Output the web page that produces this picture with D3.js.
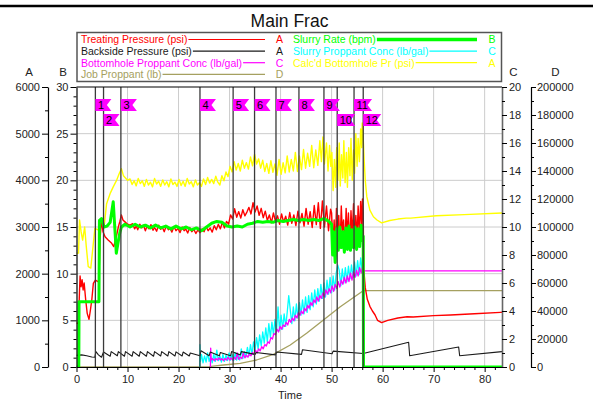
<!DOCTYPE html>
<html><head><meta charset="utf-8">
<script src="https://cdn.jsdelivr.net/npm/d3@7"></script>
<style>body{margin:0;background:#fff}svg{display:block;font-family:"Liberation Sans",Arial,sans-serif}</style>
</head><body><svg id="c" width="595" height="403"></svg>
<script>
const chartTitle = "Main Frac";
const xLabel = "Time";
const xTicks = [0,10,20,30,40,50,60,70,80];
const ticksA = [0,1000,2000,3000,4000,5000,6000];
const ticksB = [0,5,10,15,20,25,30];
const ticksC = [0,2,4,6,8,10,12,14,16,18,20];
const ticksD = [0,20000,40000,60000,80000,100000,120000,140000,160000,180000,200000];
const axisNames = ["A","B","C","D"];
const flagLabels = ["1","2","3","4","5","6","7","8","9","10","11","12"];
const flagTimes = [3.7,5.3,8.7,24.2,30.7,34.9,39.1,43.6,48.5,51.1,54.4,56.2];

const legendLeft = [
  {name:"Treating Pressure (psi)", axis:"A", key:"red"},
  {name:"Backside Pressure (psi)", axis:"A", key:"black"},
  {name:"Bottomhole Proppant Conc (lb/gal)", axis:"C", key:"magenta"},
  {name:"Job Proppant (lb)", axis:"D", key:"olive"}
];
const legendRight = [
  {name:"Slurry Rate (bpm)", axis:"B", key:"green"},
  {name:"Slurry Proppant Conc (lb/gal)", axis:"C", key:"cyan"},
  {name:"Calc'd Bottomhole Pr (psi)", axis:"A", key:"yellow"}
];

// Treating Pressure (psi) - axis A
const treatingPressure = [[0,936],[0.4,936],[0.55,1500],[0.7,1950],[0.9,1720],[1.1,1870],[1.3,1650],[1.5,1800],[1.8,1440],[2.1,1150],[2.45,1020],[2.7,1200],[3.0,1440],[3.3,1790],[3.7,1860],[4.2,1830],[4.4,1850],[4.6,2720],[4.9,3150],[5.2,2900],[5.6,2790],[6.2,2720],[6.9,2650],[7.3,2580],[7.8,2790],[8.2,3000],[8.5,3120],[8.8,3260],[9.1,3150],[9.5,3110],[10.0,3060],[10.5,3040],
[11.0,3070],[11.4,2960],[11.7,3020],[12.0,2940],[12.4,3060],[12.8,2980],[13.1,3040],[13.5,2920],[13.8,3010],[14.2,2960],[14.6,3050],[15.0,2930],[15.3,2990],[15.7,2910],[16.1,3040],[16.5,2950],[16.8,3000],[17.2,2900],[17.6,3030],[18.0,2940],[18.3,2980],[18.7,2890],[19.1,3010],[19.5,2920],[19.9,2970],[20.3,2880],[20.7,3000],[21.1,2920],[21.4,2960],[21.8,2870],[22.2,2990],[22.6,2900],[23.0,2950],[23.4,2860],[23.8,2940],[24.2,2880],[24.6,2960],[25.0,2900],[25.4,3010],[25.8,2920],[26.2,2980],[26.6,2890],[27.0,3030],[27.4,2940],[27.8,3060],[28.2,2960],[28.6,3100],[29.0,2980],[29.4,3120],[29.8,3060],
[30.2,3260],[30.6,3170],[31.0,3390],[31.4,3210],[31.8,3330],[32.2,3190],[32.6,3370],[33.0,3240],[33.4,3320],[33.8,3420],[34.2,3280],[34.6,3520],[35.0,3320],[35.4,3450],[35.8,3250],[36.2,3400],[36.6,3200],[37.0,3340],[37.4,3140],[37.8,3260],[38.2,3090],[38.6,3300],[39.0,3120],[39.4,3240],[39.8,3060],[40.2,3280],[40.6,3100],[41.0,3230],[41.4,3040],[41.8,3310],[42.2,3080],[42.6,3260],[43.0,3030],[43.4,3340],[43.8,3090],[44.2,3290],[44.6,3020],[45.0,3400],[45.4,3060],[45.8,3330],[46.2,2990],[46.6,3460],[47.0,3050],[47.4,3520],[47.8,2970],[48.2,3560],[48.6,3000],[49.0,3450],[49.4,2920],[49.8,3380],
[50.0,3300],[50.25,2600],[50.5,3150],[50.7,2450],[50.95,3400],[51.2,2800],[51.4,3250],[51.65,2550],[51.9,3450],[52.1,2900],[52.35,3150],[52.6,2500],[52.85,3400],[53.1,2750],[53.3,3300],[53.55,2550],[53.8,3350],[54.05,2800],[54.3,3500],[54.5,2650],[54.75,3250],[55.0,2750],[55.2,3450],[55.45,2850],[55.7,3550],[55.9,3000],[56.05,3600],[56.2,3300],
[56.3,2100],[56.6,1700],[57.0,1450],[57.5,1300],[58.0,1200],[58.5,1120],[59.0,1000],[59.8,950],[61.0,1000],[63.0,1050],[64.8,1078],[66.0,1070],[70.0,1100],[73.3,1114],[78.0,1140],[83.1,1171],[83.4,1172]];

// Backside Pressure (psi) - axis A
const backsidePressure = [[0,250],[1,260],[2,240],[3,215],[3.6,210],[3.8,330],[4.3,260],[4.9,210],[5.3,320],[5.6,300],[6.6,230],[6.8,330],[8.0,240],[8.2,330],[9.4,230],[9.6,330],[10.9,230],[11.1,330],[12.3,230],[12.5,330],[13.7,230],[13.9,330],[15.1,230],[15.3,330],[16.5,235],[16.7,330],[17.9,235],[18.1,330],[19.3,235],[19.5,325],[20.7,235],[20.9,320],[22.1,235],[22.3,300],[24.2,240],[24.4,350],[26.0,240],[26.2,320],[28.0,240],[28.2,310],[30.2,240],[30.4,330],[32.1,260],[32.3,330],[35.0,270],[35.2,310],[39.0,260],[39.2,320],[44.1,270],[44.3,370],[50.1,285],[50.3,340],[56.2,290],[65.1,530],[65.3,240],[74.9,430],[75.1,240],[83.4,330]];

// Slurry Rate (bpm) - axis B
const slurryRate = [[0,0],[0.45,0],[0.5,7.0],[1,7.0],[4.4,7.0],[4.5,15.7],[4.9,15.9],[5.4,15.0],[6.0,15.1],[6.6,15.5],[7.2,17.7],[7.5,15.0],[7.8,12.2],[8.2,13.5],[8.5,14.4],[8.8,15.0],[9.5,15.3],
[10.5,15.0],[11.5,15.3],[12.5,15.0],[13.5,15.2],[14.5,14.9],[15.5,15.2],[16.5,14.9],[17.5,15.1],[18.5,14.8],[19.5,15.1],[20.5,14.8],[21.5,15.0],[22.5,14.7],[23.5,14.9],[24.5,14.6],[25.5,15.0],[26.5,15.4],[27.5,15.6],[28.5,15.5],[29.5,15.1],[30.5,15.0],[31.5,15.1],[32.5,15.0],[33.5,15.3],[34.5,15.4],[35.5,15.6],[36.5,15.5],[37.5,15.6],[38.5,15.5],[39.5,15.7],[40.5,15.6],[41.5,15.7],[42.5,15.8],[43.5,15.7],[44.5,15.8],[45.5,15.7],[46.5,15.8],[47.5,15.7],[48.5,15.9],[49.5,15.6],[50.0,15.3],
[50.2,12.0],[50.4,14.5],[50.7,11.2],[51.0,14.8],[51.3,12.5],[51.6,15.0],[51.9,12.8],[52.2,14.5],[52.5,12.3],[52.8,14.9],[53.1,12.6],[53.4,15.1],[53.7,12.5],[54.0,14.7],[54.3,12.8],[54.6,15.0],[54.9,12.6],[55.2,14.8],[55.5,12.9],[55.8,15.2],[56.1,13.5],[56.2,14.0],[56.25,0],[83.4,0]];

// Slurry Proppant Conc (lb/gal) - axis C
const slurryConc = [[24.15,0],[24.2,1.6],[24.3,0.4],[24.5,0.9],[24.8,0.3],[25.1,0.8],[25.4,0.35],[25.7,1.0],[26.0,0.4],[26.3,0.8],[26.6,0.3],[26.9,0.9],[27.2,0.4],[27.5,1.2],[27.8,0.45],[28.1,0.8],[28.4,0.35],[28.7,0.9],[29.0,0.4],[29.3,0.85],[29.6,0.45],[29.9,1.0],[30.2,0.5],[30.5,0.9],[30.8,0.45],[31.1,1.0],[31.4,0.5],[31.7,0.9],[32.0,0.5],[32.3,1.3],[32.6,0.6],[32.9,1.1],[33.2,0.7],[33.5,1.4],[33.8,0.8],[34.1,1.6],[34.4,0.9],[34.7,1.8],[35.0,1.2],[35.3,2.1],[35.6,1.3],[35.9,2.3],[36.2,1.5],[36.5,2.5],[36.8,1.7],[37.1,2.8],[37.4,1.8],[37.7,3.1],[38.0,2.1],[38.3,3.2],[38.6,2.3],[38.9,3.4],[39.2,2.5],[39.5,4.3],[39.8,2.6],[40.1,3.7],[40.4,2.7],[40.7,3.8],[41.0,2.9],[41.3,3.9],[41.6,5.1],[41.9,4.1],[42.2,3.1],[42.5,4.3],[42.8,3.3],[43.1,4.5],[43.4,3.5],[43.7,4.6],[44.0,3.7],[44.3,4.8],[44.6,3.8],[44.9,5.0],[45.2,3.9],[45.5,5.1],[45.8,4.1],[46.1,5.3],[46.4,4.3],[46.7,5.5],[47.0,4.5],[47.3,5.6],[47.6,4.7],[47.9,5.9],[48.2,4.9],[48.5,6.0],[48.8,5.0],[49.1,6.2],[49.4,5.2],[49.7,6.4],[50.0,5.3],[50.3,6.5],[50.6,5.5],[50.9,6.7],[51.2,7.3],[51.5,6.9],[51.8,5.8],[52.1,7.0],[52.4,6.0],[52.7,7.1],[53.0,6.1],[53.3,7.2],[53.6,6.3],[53.9,7.3],[54.2,6.4],[54.5,7.5],[54.8,6.5],[55.1,7.6],[55.4,6.6],[55.7,7.8],[56.0,6.9],[56.2,7.0]];

// Bottomhole Proppant Conc (lb/gal) - axis C
const bottomholeConc = [[26.25,0],[26.3,1.35],[26.4,0.5],[26.7,0.6],[27.0,0.45],[27.3,0.6],[27.6,0.5],[27.9,0.65],[28.2,0.5],[28.5,0.6],[28.8,0.45],[29.1,0.6],[29.4,0.5],[29.7,0.7],[30.0,0.5],[30.3,0.65],[30.6,0.5],[30.9,0.7],[31.2,0.55],[31.5,1.0],[31.8,0.55],[32.1,0.7],[32.4,0.6],[32.7,1.0],[33.0,0.65],[33.3,0.85],[33.6,0.7],[33.9,0.95],[34.2,0.8],[34.5,1.05],[34.8,0.9],[35.1,1.2],[35.4,1.0],[35.7,1.3],[36.0,1.15],[36.3,1.45],[36.6,1.3],[36.9,1.6],[37.2,1.5],[37.5,1.8],[37.8,1.7],[38.1,2.1],[38.4,2.0],[38.7,2.4],[39.0,2.3],[39.3,2.7],[39.6,2.5],[39.9,2.9],[40.2,2.7],[40.5,3.0],[40.8,2.9],[41.1,3.2],[41.4,3.0],[41.7,3.4],[42.0,3.2],[42.3,3.5],[42.6,3.3],[42.9,3.7],[43.2,3.5],[43.5,3.9],[43.8,3.7],[44.1,4.0],[44.4,3.8],[44.7,4.2],[45.0,4.0],[45.3,4.4],[45.6,4.2],[45.9,4.6],[46.2,4.4],[46.5,4.8],[46.8,4.6],[47.1,5.0],[47.4,4.7],[47.7,5.1],[48.0,4.9],[48.3,5.3],[48.6,5.0],[48.9,5.5],[49.2,5.2],[49.5,5.6],[49.8,5.3],[50.1,5.8],[50.4,5.4],[50.7,5.9],[51.0,5.6],[51.3,6.1],[51.6,5.7],[51.9,6.2],[52.2,5.9],[52.5,6.4],[52.8,6.0],[53.1,6.5],[53.4,6.1],[53.7,6.7],[54.0,6.2],[54.3,6.8],[54.6,6.4],[54.9,6.9],[55.2,6.5],[55.5,7.1],[55.8,6.7],[56.1,7.2],[56.3,6.86],[83.4,6.86]];

// Job Proppant (lb) - axis D
const jobProppant = [[0,0],[24.2,0],[26.0,300],[28.8,1430],[32.1,2640],[35.3,5000],[38.6,9000],[41.9,15700],[45.1,24070],[48.4,33570],[51.7,43070],[55.0,51430],[56.2,54500],[83.4,54500]];

// Calc'd Bottomhole Pr (psi) - axis A
const bottomholePr = [[0,2440],[0.4,2440],[0.6,3150],[0.9,2900],[1.2,2720],[1.6,3000],[1.9,2600],[2.3,2150],[2.8,2120],[3.3,2650],[3.6,2970],[4.2,2940],[4.9,3080],[5.4,2990],[5.9,3500],[6.6,3720],[7.2,3860],[7.9,4010],[8.4,4150],[8.8,4250],[9.2,4100],[9.6,4050],[10.0,4000],
[10.5,4030],[10.9,3910],[11.3,3990],[11.7,3880],[12.1,4040],[12.5,3930],[12.9,3990],[13.3,3870],[13.7,4020],[14.1,3900],[14.5,3960],[14.9,3860],[15.3,4040],[15.7,3920],[16.1,3980],[16.5,3870],[16.9,4010],[17.3,3900],[17.7,3970],[18.1,3860],[18.5,4030],[18.9,3910],[19.3,3960],[19.7,3870],[20.1,4020],[20.5,3890],[20.9,3980],[21.3,3870],[21.7,4040],[22.1,3920],[22.5,3970],[22.9,3860],[23.3,4010],[23.7,3900],[24.1,3950],[24.5,3870],[24.9,4030],[25.3,3910],[25.7,4060],[26.1,3940],[26.5,4020],[26.9,3930],[27.3,4090],[27.7,3960],[28.1,3900],[28.5,4100],[28.9,3990],[29.3,4180],[29.7,4080],
[30.1,4300],[30.5,4180],[30.9,4400],[31.3,4220],[31.7,4360],[32.1,4200],[32.5,4430],[32.9,4260],[33.3,4380],[33.7,4240],[34.1,4500],[34.5,4310],[34.9,4560],[35.3,4350],[35.7,4460],[36.1,4260],[36.5,4430],[36.9,4190],[37.3,4360],[37.7,4150],[38.1,4420],[38.5,4170],[38.9,4350],[39.3,4110],[39.7,4450],[40.1,4130],[40.5,4380],[40.9,4160],[41.3,4520],[41.7,4180],[42.1,4450],[42.5,4200],[42.9,4600],[43.3,4190],[43.7,4520],[44.1,4230],[44.5,4660],[44.9,4260],[45.3,4580],[45.7,4300],[46.1,4750],[46.5,4270],[46.9,4650],[47.3,4320],[47.7,4850],[48.0,4400],[48.3,4930],[48.6,4350],[49.0,4800],[49.3,4200],
[49.6,4750],[49.85,4300],[50.05,4600],[50.3,3780],[50.55,4450],[50.8,3850],[51.0,4700],[51.25,4000],[51.5,4800],[51.7,3880],[51.95,4550],[52.2,4050],[52.4,4850],[52.65,3950],[52.9,4600],[53.1,3850],[53.35,4700],[53.6,4100],[53.8,4900],[54.05,4000],[54.3,4650],[54.5,4150],[54.75,5000],[55.0,4300],[55.2,4900],[55.45,4400],[55.7,5100],[55.9,4700],[56.0,5230],[56.2,4900],
[56.4,4400],[56.6,4000],[56.9,3650],[57.5,3360],[58.2,3220],[58.9,3150],[59.8,3090],[61.4,3140],[63.0,3170],[64.6,3190],[65.5,3190],[70.5,3240],[76.0,3265],[83.4,3300]];

const colors = {red:"#ff0000", black:"#1a1a1a", magenta:"#ff00ff", olive:"#a5a060", green:"#00ff00", cyan:"#00ffff", yellow:"#ffff00"};

const svg = d3.select("#c");
const L = 76.5, R = 502, T = 87, B = 367;
const x = d3.scaleLinear([0, 83.4], [L, R]);
const yA = d3.scaleLinear([0, 6000], [B, T]);
const yB = d3.scaleLinear([0, 30], [B, T]);
const yC = d3.scaleLinear([0, 20], [B, T]);
const yD = d3.scaleLinear([0, 200000], [B, T]);
const FONT = 11;
const txtCol = "#222";
const fmt = d3.format("d");

svg.append("line").attr("x1",0).attr("x2",593).attr("y1",6).attr("y2",6).attr("stroke","#000").attr("stroke-width",2.5);
svg.append("text").attr("x",289.5).attr("y",27).attr("text-anchor","middle").attr("font-size",17.5).attr("fill","#111").text(chartTitle);

const grid = svg.append("g").attr("stroke","#cccccc").attr("stroke-width",1);
xTicks.filter(v => v > 0).forEach(v => grid.append("line").attr("x1",x(v)).attr("x2",x(v)).attr("y1",T).attr("y2",B));
ticksB.filter(v => v > 0 && v < 30).forEach(v => grid.append("line").attr("x1",L).attr("x2",R).attr("y1",yB(v)).attr("y2",yB(v)));

svg.append("clipPath").attr("id","clip").append("rect").attr("x",L).attr("y",T).attr("width",R-L).attr("height",B-T);
const plot = svg.append("g").attr("clip-path","url(#clip)");
const mk = (ys) => d3.line().x(d => x(d[0])).y(d => ys(d[1]));
function series(data, ys, col, w){
  plot.append("path").attr("d", mk(ys)(data)).attr("fill","none").attr("stroke",col).attr("stroke-width",w).attr("stroke-linejoin","round");
}
series(jobProppant, yD, colors.olive, 1.3);
series(bottomholePr, yA, colors.yellow, 1.4);
series(slurryConc, yC, colors.cyan, 1.3);
series(bottomholeConc, yC, colors.magenta, 1.3);
series(treatingPressure, yA, colors.red, 1.4);
series(backsidePressure, yA, colors.black, 1.1);
series(slurryRate, yB, colors.green, 3);

flagTimes.forEach(t => svg.append("line").attr("x1",x(t)).attr("x2",x(t)).attr("y1",T).attr("y2",B).attr("stroke","#3a3a3a").attr("stroke-width",1.3));

let lastEnd = -1e9;
flagLabels.forEach((lab, i) => {
  const fx = x(flagTimes[i]);
  const w = lab.length > 1 ? 18 : 16;
  let row = 0;
  if (fx < lastEnd) row = 1; else lastEnd = fx + w;
  const fy = row === 0 ? 99 : 114;
  svg.append("path").attr("d", `M${fx},${fy}h${w}l-4.5,6l4.5,6h${-w}Z`).attr("fill","#ff00ff");
  svg.append("text").attr("x",fx+2.5).attr("y",fy+10).attr("font-size",11).attr("fill","#000").text(lab);
});

svg.append("line").attr("x1",L).attr("x2",R).attr("y1",T).attr("y2",T).attr("stroke","#000").attr("stroke-width",1.2);

function styleAxis(g){
  g.selectAll("text").attr("font-size",FONT).attr("fill",txtCol).attr("font-family","'Liberation Sans',Arial,sans-serif");
  g.selectAll("line").attr("stroke","#000");
  g.select(".domain").attr("stroke","#000").attr("stroke-width",1.2);
}
function minor(tr, axis){
  svg.append("g").attr("transform",tr).call(axis.tickFormat("")).call(g=>{g.select(".domain").remove();g.selectAll("line").attr("stroke","#000");});
}
const gA = svg.append("g").attr("transform","translate(48,0)");
gA.call(d3.axisLeft(yA).tickValues(ticksA).tickFormat(fmt).tickSize(6).tickSizeOuter(0).tickPadding(2)); styleAxis(gA);
minor("translate(48,0)", d3.axisLeft(yA).tickValues(d3.range(500,6000,1000)).tickSize(3));
const gB = svg.append("g").attr("transform",`translate(${L},0)`);
gB.call(d3.axisLeft(yB).tickValues(ticksB).tickFormat(fmt).tickSize(6).tickSizeOuter(0).tickPadding(2)); styleAxis(gB);
minor(`translate(${L},0)`, d3.axisLeft(yB).tickValues(d3.range(0,31,1).filter(v=>v%5)).tickSize(3));
const gC = svg.append("g").attr("transform",`translate(${R},0)`);
gC.call(d3.axisRight(yC).tickValues(ticksC).tickFormat(fmt).tickSize(5).tickSizeOuter(0).tickPadding(2)); styleAxis(gC);
gC.select(".domain").attr("stroke","#666").attr("stroke-width",1.6);
minor(`translate(${R},0)`, d3.axisRight(yC).tickValues(d3.range(1,20,2)).tickSize(3));
const gD = svg.append("g").attr("transform","translate(531,0)");
gD.call(d3.axisRight(yD).tickValues(ticksD).tickFormat(fmt).tickSize(5).tickSizeOuter(0).tickPadding(1)); styleAxis(gD);
minor("translate(531,0)", d3.axisRight(yD).tickValues(d3.range(10000,200000,20000)).tickSize(3));
const gX = svg.append("g").attr("transform",`translate(0,${B})`);
gX.call(d3.axisBottom(x).tickValues(xTicks).tickFormat(fmt).tickSize(5).tickSizeOuter(0).tickPadding(3)); styleAxis(gX);
minor(`translate(0,${B})`, d3.axisBottom(x).tickValues(d3.range(2,84,2).filter(v=>v%10)).tickSize(3));

const axisNameX = [29, 63, 513.5, 555.5];
axisNames.forEach((n,i) => svg.append("text").attr("x",axisNameX[i]).attr("y",76).attr("text-anchor","middle").attr("font-size",11.5).attr("fill",txtCol).text(n));
svg.append("text").attr("x",290).attr("y",399).attr("text-anchor","middle").attr("font-size",FONT).attr("fill",txtCol).text(xLabel);

const lg = svg.append("g");
lg.append("rect").attr("x",77).attr("y",32.5).attr("width",424.5).attr("height",49).attr("fill","#fff").attr("stroke","#555").attr("stroke-width",1.5);
function legendCol(items, tx, lineEnd, letterX){
  items.forEach((it,i) => {
    const cy = 39.5 + i*11.6;
    const col = colors[it.key];
    const t = lg.append("text").attr("x",tx).attr("y",cy+3.8).attr("font-size",10.5).attr("fill",col).text(it.name);
    const end = tx + t.node().getComputedTextLength() + 1;
    lg.append("line").attr("x1",end).attr("x2",lineEnd).attr("y1",cy).attr("y2",cy).attr("stroke",col).attr("stroke-width", it.key==="green"?3.5:1.2);
    lg.append("text").attr("x",letterX).attr("y",cy+3.8).attr("text-anchor","middle").attr("font-size",10.5).attr("fill",col).text(it.axis);
  });
}
legendCol(legendLeft, 81, 265, 279.5);
legendCol(legendRight, 293, 477, 492);
</script></body></html>
